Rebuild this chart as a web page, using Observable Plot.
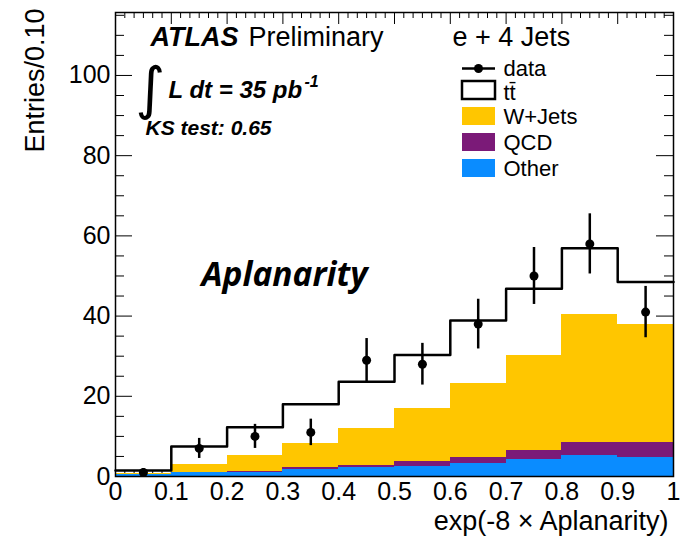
<!DOCTYPE html>
<html><head><meta charset="utf-8">
<script src="https://cdn.jsdelivr.net/npm/d3@7"></script>
<script src="https://cdn.jsdelivr.net/npm/@observablehq/plot@0.6"></script>
<style>
html,body{margin:0;padding:0;background:#fff;}
#chart{width:680px;height:538px;}
</style></head><body><div id="chart"></div>
<script>
// ---- data ----
const binLow  = [0.0, 0.1, 0.2, 0.3, 0.4, 0.5, 0.6, 0.7, 0.8, 0.9];
const binHigh = [0.1, 0.2, 0.3, 0.4, 0.5, 0.6, 0.7, 0.8, 0.9, 1.0];
const other   = [0.4, 0.9, 1.1, 1.8, 2.3, 2.6, 3.3, 4.3, 5.2, 4.8];
const qcd     = [0.05, 0.2, 0.2, 0.5, 0.4, 1.1, 1.4, 2.1, 3.4, 3.8];
const wjets   = [0.35, 1.9, 3.9, 6.0, 9.3, 13.2, 18.5, 23.8, 31.7, 29.4];
const ttbar   = [0.7, 4.5, 7.1, 9.7, 11.6, 13.4, 15.7, 16.6, 16.6, 10.5];
const dataCounts = [1, 7, 10, 11, 29, 28, 38, 50, 58, 41];
const dataErr    = [1.0, 2.5, 3.0, 3.3, 5.4, 5.2, 6.2, 7.1, 7.5, 6.4];
const xTicks = [0, 0.1, 0.2, 0.3, 0.4, 0.5, 0.6, 0.7, 0.8, 0.9, 1];
const yTicks = [0, 20, 40, 60, 80, 100];
const seriesNames  = ["Other", "QCD", "W+Jets"];
const seriesColors = ["#0a8cff", "#7b1a78", "#ffc600"];
const legendNames  = ["data", "t\u0074\u0304", "W+Jets", "QCD", "Other"];

// ---- layout ----
const W = 680, H = 538, mL = 115, mR = 7, mT = 12, mB = 62;
const yMax = 115.7;
const plotW = W - mL - mR, plotH = H - mT - mB;
const ux = 1 / plotW, uy = yMax / plotH;   // data units per pixel

// stacked rows (bottom to top: Other, QCD, W+Jets)
const stackRows = [];
[other, qcd, wjets].forEach((arr, k) =>
  arr.forEach((v, i) => stackRows.push({series: seriesNames[k], x1: binLow[i], x2: binHigh[i], v})));

const totals = binLow.map((_, i) => other[i] + qcd[i] + wjets[i] + ttbar[i]);
const stepPts = binLow.map((x, i) => ({x, y: totals[i]}));
stepPts.push({x: binHigh[binHigh.length - 1], y: totals[totals.length - 1]});

const dataRows = dataCounts.map((n, i) => ({xc: (binLow[i] + binHigh[i]) / 2, n, e: dataErr[i]}));

// tick positions
const xMinor = d3.range(0, 61).map(i => i / 60);
const yMinor = d3.range(0, 116, 5);
const isMajX = d => Math.abs(d * 10 - Math.round(d * 10)) < 1e-6;
const isMajY = d => d % 20 === 0;
const xLen = d => (isMajX(d) ? 12 : 6) * uy;
const yLen = d => (isMajY(d) ? 17 : 9) * ux;

const font = "'Liberation Sans', Arial, Helvetica, sans-serif";

const boxSymbol = {draw(ctx) { ctx.rect(-16.5, -9, 33, 18); }};
const lineSymbol = {draw(ctx) { ctx.moveTo(-16.5, 0); ctx.lineTo(16.5, 0); }};

const legX = 363;            // center of legend swatches, relative to frame left
const legTextX = 388;
const legRowY = [56, 77.5, 103.5, 129.5, 155.5];
const legTextOff = [7, 10, 8, 8, 8];

const txt = (s, o) => Plot.text([s], {frameAnchor: "top-left", text: d => d, textAnchor: "start", lineAnchor: "bottom", fill: "black", fontFamily: font, ...o});

const chart = Plot.plot({
  width: W, height: H,
  marginLeft: mL, marginRight: mR, marginTop: mT, marginBottom: mB,
  x: {domain: [0, 1], axis: null},
  y: {domain: [0, yMax], axis: null},
  color: {domain: seriesNames, range: seriesColors},
  style: {fontFamily: font, fontSize: "26px", background: "white", overflow: "visible"},
  marks: [
    // ticks (inward, all four sides)
    Plot.ruleX(xMinor, {x: d => d, y1: 0, y2: d => xLen(d), stroke: "black", strokeWidth: 1}),
    Plot.ruleX(xMinor, {x: d => d, y1: yMax, y2: d => yMax - xLen(d), stroke: "black", strokeWidth: 1}),
    Plot.ruleY(yMinor, {y: d => d, x1: 0, x2: d => yLen(d), stroke: "black", strokeWidth: 1}),
    Plot.ruleY(yMinor, {y: d => d, x1: 1, x2: d => 1 - yLen(d), stroke: "black", strokeWidth: 1}),
    // stacked MC
    Plot.rectY(stackRows, {x1: "x1", x2: "x2", y: "v", fill: "series", shapeRendering: "crispEdges"}),
    // tt̄ outline = total
    Plot.line(stepPts, {x: "x", y: "y", curve: "step-after", stroke: "black", strokeWidth: 2.5}),
    // data
    Plot.ruleX(dataRows, {x: "xc", y1: d => d.n - d.e, y2: d => d.n + d.e, stroke: "black", strokeWidth: 2.5}),
    Plot.dot(dataRows, {x: "xc", y: "n", r: 4.5, fill: "black"}),
    Plot.frame({stroke: "black", strokeWidth: 1.5}),
    // tick labels
    Plot.text(xTicks, {x: d => d, y: 0, text: d => String(d), lineAnchor: "top", dy: 6, fontSize: 25, fill: "black"}),
    Plot.text(yTicks, {x: 0, y: d => d, text: d => String(d), textAnchor: "end", dx: -5, fontSize: 25, fill: "black"}),
    // axis titles
    Plot.text(["exp(-8 \u00d7 Aplanarity)"], {frameAnchor: "bottom-right", text: d => d, textAnchor: "end", lineAnchor: "bottom", dx: -5, dy: 53, fontSize: 27, fill: "black"}),
    Plot.text(["Entries/0.10"], {frameAnchor: "top-left", text: d => d, textAnchor: "end", lineAnchor: "bottom", rotate: -90, dx: -72, dy: -4, fontSize: 27, fill: "black"}),
    // annotations
    txt("ATLAS", {dx: 35, dy: 33, fontSize: 27, fontWeight: "bold", fontStyle: "italic"}),
    txt("Preliminary", {dx: 133, dy: 33, fontSize: 27}),
    txt("e + 4 Jets", {dx: 337, dy: 33, fontSize: 27}),
    txt("\u222b", {dx: 20, dy: 95, fontSize: 57, fontFamily: "'DejaVu Sans', sans-serif", fontStyle: "italic"}),
    txt("L dt = 35 pb", {dx: 53, dy: 85, fontSize: 24, fontWeight: "bold", fontStyle: "italic"}),
    txt("-1", {dx: 189, dy: 74, fontSize: 16, fontWeight: "bold", fontStyle: "italic"}),
    txt("KS test: 0.65", {dx: 30, dy: 122, fontSize: 21, fontWeight: "bold", fontStyle: "italic"}),
    txt("Aplanarity", {dx: 86, dy: 273, fontSize: 33.5, fontWeight: 700, fontStyle: "italic", fontFamily: "'Open Sans', sans-serif"}),
    // legend
    Plot.dot([0], {frameAnchor: "top-left", dx: legX, dy: legRowY[0], symbol: lineSymbol, fill: "none", stroke: "black", strokeWidth: 2.5}),
    Plot.dot([0], {frameAnchor: "top-left", dx: legX, dy: legRowY[0], r: 4.5, fill: "black", stroke: "none"}),
    Plot.dot([0], {frameAnchor: "top-left", dx: legX, dy: legRowY[1], symbol: boxSymbol, fill: "white", stroke: "black", strokeWidth: 2.5}),
    Plot.dot([0], {frameAnchor: "top-left", dx: legX, dy: legRowY[2], symbol: boxSymbol, fill: seriesColors[2], stroke: "none"}),
    Plot.dot([0], {frameAnchor: "top-left", dx: legX, dy: legRowY[3], symbol: boxSymbol, fill: seriesColors[1], stroke: "none"}),
    Plot.dot([0], {frameAnchor: "top-left", dx: legX, dy: legRowY[4], symbol: boxSymbol, fill: seriesColors[0], stroke: "none"}),
    ...legendNames.map((s, k) => txt(s, {dx: legTextX, dy: legRowY[k] + legTextOff[k], fontSize: 22}))
  ]
});
document.getElementById("chart").appendChild(chart);
</script></body></html>
